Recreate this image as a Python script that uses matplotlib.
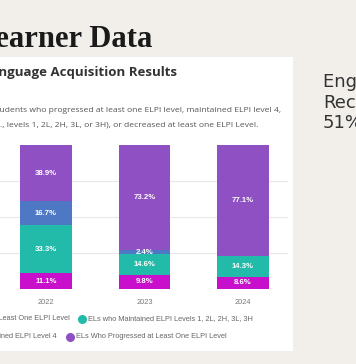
import numpy as np
import matplotlib.pyplot as plt
from matplotlib.patches import Rectangle

# chart data
years = ['2022', '2023', '2024']
decreased = [11.1, 9.8, 8.6]
maintained_low = [33.3, 14.6, 14.3]
maintained_l4 = [16.7, 2.4, 0.0]
progressed = [38.9, 73.2, 77.1]

series = [
    ('ELs who Decreased at Least One ELPI Level', decreased, '#c70fcc'),
    ('ELs who Maintained ELPI Levels 1, 2L, 2H, 3L, 3H', maintained_low, '#22baa8'),
    ('ELs who Maintained ELPI Level 4', maintained_l4, '#4f78c4'),
    ('ELs Who Progressed at Least One ELPI Level', progressed, '#8f50c3'),
]

W, H = 356, 364
fig = plt.figure(figsize=(W / 100, H / 100), dpi=100)
fig.patch.set_facecolor('#f2efea')

def fx(px):
    return px / W

def fy(py):
    return 1 - py / H

# white card (behind the axes)
fig.patches.append(Rectangle((fx(-10), fy(351)), fx(303), fy(57) - fy(351),
                             transform=fig.transFigure, facecolor='white',
                             edgecolor='none', zorder=-1))

# slide title and card texts
fig.text(fx(152), fy(47), 'Learner Data', ha='right', va='baseline',
         fontsize=22, fontweight='bold', family='Liberation Serif', color='#1a1a1a')
fig.text(fx(177), fy(76), 'English Language Acquisition Results', ha='right',
         va='baseline', fontsize=9.5, fontweight='bold', family='Open Sans', color='#333333')
fig.text(fx(281), fy(112), 'Percentage of students who progressed at least one ELPI level, '
         'maintained ELPI level 4,', ha='right', va='baseline', fontsize=6.1,
         family='Open Sans', color='#555555')
fig.text(fx(258), fy(127), 'maintained a lower ELPI level (i.e., levels 1, 2L, 2H, 3L, or 3H), '
         'or decreased at least one ELPI Level.', ha='right', va='baseline', fontsize=6.1,
         family='Open Sans', color='#555555')

for i, line in enumerate(['English Learner', 'Reclassification', '51%']):
    fig.text(fx(323), fy(87 + i * 20.5), line, ha='left', va='baseline',
             fontsize=13, family='DejaVu Sans', color='#333333')

# bar chart
ax = fig.add_axes([0, fy(289), fx(288), fy(145) - fy(289)])
ax.set_facecolor('none')
x = np.arange(len(years))
bottom = np.zeros(len(years))
for name, vals, col in series:
    vals = np.array(vals)
    ax.bar(x, vals, 0.52, bottom=bottom, color=col, zorder=2)
    for xi, v, b in zip(x, vals, bottom):
        if v > 0:
            ax.text(xi, b + v / 2, f'{v:.1f}%', ha='center', va='center',
                    fontsize=5.6, fontweight='bold', color='white',
                    family='Liberation Sans', zorder=3)
    bottom += vals

ax.set_xlim(-0.467, 2.457)
ax.set_ylim(0, 100)
ax.set_yticks([0, 25, 50, 75])
ax.yaxis.grid(True, color='#e8e8e8', linewidth=0.8, zorder=0)
ax.tick_params(axis='y', left=False, labelleft=False)
ax.tick_params(axis='x', bottom=False, labelsize=5.3, labelcolor='#777777', pad=4)
ax.set_xticks(x)
ax.set_xticklabels(years, family='Liberation Sans')
for s in ax.spines.values():
    s.set_visible(False)

# legend, laid out as a flowing row (first item of each row runs off the left edge)
legend_items = [(0, 70, 319, False), (1, 82, 319, True),
                (2, 57, 337, False), (3, 70, 337, True)]
for idx, px, py, with_marker in legend_items:
    name, vals, col = series[idx]
    if with_marker:
        fig.lines.append(plt.Line2D([fx(px)], [fy(py)], marker='o', markersize=5.5,
                                    color=col, linestyle='none',
                                    transform=fig.transFigure))
        fig.text(fx(px + 6), fy(py), name, ha='left', va='center', fontsize=5.3,
                 family='Liberation Sans', color='#666666')
    else:
        fig.text(fx(px), fy(py), name, ha='right', va='center', fontsize=5.3,
                 family='Liberation Sans', color='#666666')

fig.savefig('out.png', dpi=100, facecolor=fig.get_facecolor())
